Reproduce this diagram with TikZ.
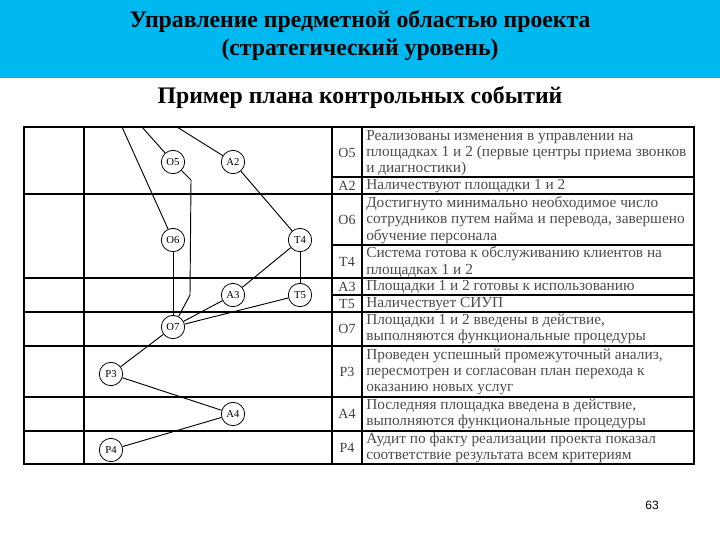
\documentclass[tikz,border=0pt]{standalone}
\usepackage{fontspec}
\setmainfont{Liberation Serif}
\newfontfamily\sansf{Liberation Sans}
\begin{document}
\begin{tikzpicture}[x=0.75pt,y=-0.75pt,
  ev/.style={draw,circle,line width=0.6pt,minimum size=17.5pt,inner sep=0pt,fill=white,font=\fontsize{8}{8}\selectfont},
  desc/.style={anchor=west,align=left,inner sep=0pt,text=black!70,font=\fontsize{11.5}{12.2}\selectfont},
  code/.style={text=black!75,inner sep=0pt,font=\fontsize{10.5}{11}\selectfont},
  ttl/.style={font=\bfseries\fontsize{17.8}{19}\selectfont},
  grid/.style={line width=0.8pt},
  thick grid/.style={line width=1.8pt},
  link/.style={line width=0.7pt}]
\definecolor{hdr}{RGB}{0,184,240}
\useasboundingbox (0,0) rectangle (720,540);
\fill[white] (0,0) rectangle (720,540);
\fill[hdr] (0,0) rectangle (720,78);
\node[ttl] (t1) at (360,22) {Управление предметной областью проекта};
\node[ttl] (t2) at (360,50) {(стратегический уровень)};
\node[ttl] (t3) at (360,98) {Пример плана контрольных событий};
% table frame
\draw[grid] (24,127) rectangle (694,464);
\draw[grid] (84,127) -- (84,464);
\draw[grid] (332,127) -- (332,464);
\draw[grid] (362,127) -- (362,464);
\draw[grid] (24,194) -- (694,194);
\draw[thick grid] (24,278) -- (694,278);
\draw[thick grid] (24,312) -- (694,312);
\draw[grid] (24,346) -- (694,346);
\draw[grid] (24,397) -- (694,397);
\draw[thick grid] (24,431) -- (694,431);
\draw[grid] (332,177) -- (694,177);
\draw[grid] (332,245) -- (694,245);
\draw[grid] (332,295) -- (694,295);
% codes and descriptions
\node[code] (c1) at (347,153) {O5};
\node[desc] (d1) at (366,153) {Реализованы изменения в управлении на\\площадках 1 и 2 (первые центры приема звонков\\и диагностики)};
\node[code] (c2) at (347,186) {A2};
\node[desc] (d2) at (366,186) {Наличествуют площадки 1 и 2};
\node[code] (c3) at (347,220) {O6};
\node[desc] (d3) at (366,220) {Достигнуто минимально необходимое число\\сотрудников путем найма и перевода, завершено\\обучение персонала};
\node[code] (c4) at (347,262) {T4};
\node[desc] (d4) at (366,262) {Система готова к обслуживанию клиентов на\\площадках 1 и 2};
\node[code] (c5) at (347,287) {A3};
\node[desc] (d5) at (366,287) {Площадки 1 и 2 готовы к использованию};
\node[code] (c6) at (347,304) {T5};
\node[desc] (d6) at (366,304) {Наличествует СИУП};
\node[code] (c7) at (347,329) {O7};
\node[desc] (d7) at (366,329) {Площадки 1 и 2 введены в действие,\\выполняются функциональные процедуры};
\node[code] (c8) at (347,372) {P3};
\node[desc] (d8) at (366,372) {Проведен успешный промежуточный анализ,\\пересмотрен и согласован план перехода к\\оказанию новых услуг};
\node[code] (c9) at (347,414) {A4};
\node[desc] (d9) at (366,414) {Последняя площадка введена в действие,\\выполняются функциональные процедуры};
\node[code] (c10) at (347,448) {P4};
\node[desc] (d10) at (366,448) {Аудит по факту реализации проекта показал\\соответствие результата всем критериям};
% graph
\node[ev] (O5) at (173,162) {O5};
\node[ev] (A2) at (233,162) {A2};
\node[ev] (O6) at (173,240) {O6};
\node[ev] (T4) at (300,240) {T4};
\node[ev] (A3) at (233,295) {A3};
\node[ev] (T5) at (300,295) {T5};
\node[ev] (O7) at (173,327) {O7};
\node[ev] (P3) at (111,374) {P3};
\node[ev] (A4) at (233,414) {A4};
\node[ev] (P4) at (111,450) {P4};
\coordinate (s1) at (122,127);
\coordinate (s2) at (142,127);
\coordinate (s3) at (177,127);
\coordinate (b1) at (191,180);
\coordinate (b2) at (190,295);
\draw[link] (s1) -- (O6);
\draw[link] (s2) -- (O5);
\draw[link] (s3) -- (A2);
\draw[link] (O5) -- (b1) -- (b2) -- (O7);
\draw[link] (A2) -- (T4);
\draw[link] (T4) -- (A3);
\draw[link] (T4) -- (T5);
\draw[link] (O6) -- (O7);
\draw[link] (A3) -- (O7);
\draw[link] (T5) -- (O7);
\draw[link] (O7) -- (P3);
\draw[link] (P3) -- (A4);
\draw[link] (A4) -- (P4);
\node[font=\sansf\fontsize{9}{10}\selectfont] (pg) at (652,505) {63};
\end{tikzpicture}
\end{document}
